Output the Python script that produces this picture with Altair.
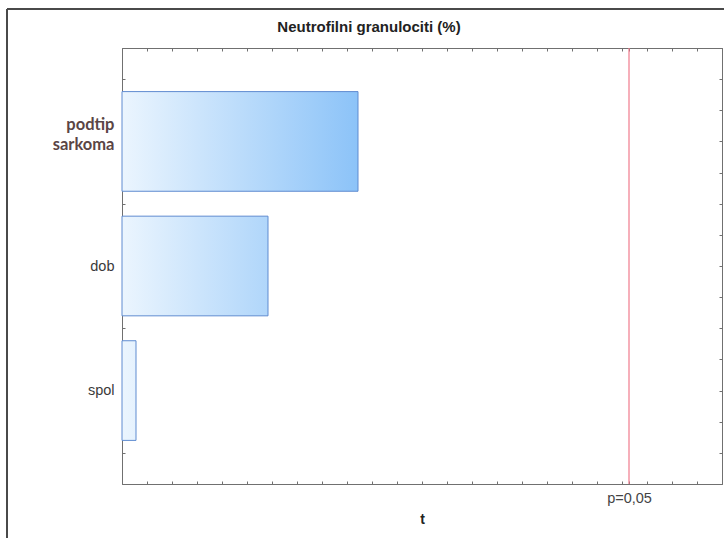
import altair as alt
import pandas as pd

# Pareto chart of standardized effects (t) for neutrophil granulocytes
TITLE = "Neutrofilni granulociti (%)"
factors = ["podtip sarkoma", "dob", "spol"]
factor_lines = [["podtip", "sarkoma"], ["dob"], ["spol"]]
t_values = [0.944, 0.584, 0.056]
T_CRIT = 2.028
CRIT_LABEL = "p=0,05"
X_TITLE = "t"

W, H = 600, 436
X_MAX = 2.4
Y_MAX = 14          # each factor occupies 4 slots; centres at 3, 7, 11
BAR_HALF = 1.6

LIGHT, DARK = "#ebf5fe", "#8cc3f8"
BAR_EDGE = "#5f8bd0"
AXIS_GREY = "#707070"
LABEL_FONT = "Liberation Sans"

pos = [3 + 4 * i for i in range(len(factors))]
df = pd.DataFrame({"factor": factors, "t": t_values, "pos": pos})
df["y0"] = df["pos"] - BAR_HALF
df["y1"] = df["pos"] + BAR_HALF

x_scale = alt.Scale(domain=[0, X_MAX], nice=False, zero=True)
y_scale = alt.Scale(domain=[0, Y_MAX], reverse=True, nice=False)

x_ticks = [round(0.1 * k, 1) for k in range(int(round(X_MAX * 10)) + 1)] + [T_CRIT]
y_ticks = list(range(Y_MAX + 1))


def y_label_expr():
    parts = []
    for p, lines in zip(pos, factor_lines):
        if len(lines) > 1:
            txt = "[" + ",".join(f"'{s}'" for s in lines) + "]"
        else:
            txt = f"'{lines[0]}'"
        parts.append(f"datum.value == {p} ? {txt} : ")
    return "".join(parts) + "''"


inward = alt.ExprRef(expr="-3")
emph = f"datum.value == {pos[0]}"

common_axis = dict(
    grid=False, domainColor=AXIS_GREY, tickColor=AXIS_GREY,
    tickSize=inward, domainWidth=1, tickWidth=1,
)

x_axis = alt.Axis(
    values=x_ticks,
    labelExpr=f"abs(datum.value - {T_CRIT}) < 1e-9 ? '{CRIT_LABEL}' : ''",
    title=X_TITLE, titleFont=LABEL_FONT, titleFontSize=14, titleFontWeight="bold",
    titleColor="#222222", titlePadding=8,
    labelFont=LABEL_FONT, labelFontSize=14.5, labelColor="#444444",
    labelPadding=10, labelOverlap=False, labelFlush=False,
    **common_axis,
)
x_axis_top = alt.Axis(values=x_ticks, orient="top", labels=False, title=None, **common_axis)

y_axis = alt.Axis(
    values=y_ticks,
    labelExpr=y_label_expr(),
    title=None,
    labelFont=alt.condition(emph, alt.value("Lato"), alt.value(LABEL_FONT)),
    labelFontWeight=alt.condition(emph, alt.value("bold"), alt.value("normal")),
    labelFontSize=alt.condition(emph, alt.value(16.5), alt.value(14.5)),
    labelColor=alt.condition(emph, alt.value("#5a4545"), alt.value("#3a3a3a")),
    labelOffset=alt.condition(emph, alt.value(-17), alt.value(0)),
    labelLineHeight=20,
    labelPadding=11, labelOverlap=False, labelFlush=False,
    **common_axis,
)
y_axis_right = alt.Axis(values=y_ticks, orient="right", labels=False, title=None, **common_axis)

# one layer per bar so that the fill gradient runs on a common t scale
t_top = max(t_values)
bar_layers = []
for i, (f, t) in enumerate(zip(factors, t_values)):
    grad = alt.Gradient(
        gradient="linear",
        stops=[alt.GradientStop(color=LIGHT, offset=0), alt.GradientStop(color=DARK, offset=1)],
        x1=0, x2=t_top / t, y1=0, y2=0,
    )
    first = i == 0
    bar_layers.append(
        alt.Chart(df).transform_filter(alt.datum.factor == f)
        .mark_rect(fill=grad, stroke=BAR_EDGE, strokeWidth=1)
        .encode(
            x=alt.X("t:Q", scale=x_scale, axis=x_axis if first else None),
            x2=alt.datum(0),
            y=alt.Y("y0:Q", scale=y_scale, axis=y_axis if first else None),
            y2="y1:Q",
        )
    )

crit_rule = (
    alt.Chart(pd.DataFrame({"t": [T_CRIT]}))
    .mark_rule(color="#f07a8c", strokeWidth=1.2)
    .encode(x=alt.X("t:Q", scale=x_scale, axis=None))
)

# mirrored axes on the top and right edges of the plot box
mirror = (
    alt.Chart(df).mark_point(opacity=0)
    .encode(
        x=alt.X("t:Q", scale=x_scale, axis=x_axis_top),
        y=alt.Y("pos:Q", scale=y_scale, axis=y_axis_right),
    )
)

# figure frame (top and left edges)
one = alt.Data(values=[{}])
frame_top = alt.Chart(one).mark_rule(color="#4a4a4a", strokeWidth=2).encode(
    x=alt.value(-115), x2=alt.value(W + 10), y=alt.value(-39)
)
frame_left = alt.Chart(one).mark_rule(color="#4a4a4a", strokeWidth=2).encode(
    x=alt.value(-115), y=alt.value(-39), y2=alt.value(H + 60)
)

chart = (
    alt.layer(frame_top, frame_left, *bar_layers, crit_rule, mirror)
    .resolve_axis(x="independent", y="independent")
    .properties(
        width=W, height=H,
        padding={"left": 122, "top": 48, "right": 2, "bottom": 54},
        autosize=alt.AutoSizeParams(type="none"),
        title=alt.TitleParams(
            TITLE, font=LABEL_FONT, fontSize=15, fontWeight="bold",
            color="#222222", anchor="middle", dx=-53, offset=14, dy=41,
        ),
    )
    .configure_view(stroke=None)
    .configure(background="white")
)

chart.save("out.html", embed_options={"renderer": "svg", "actions": False})
